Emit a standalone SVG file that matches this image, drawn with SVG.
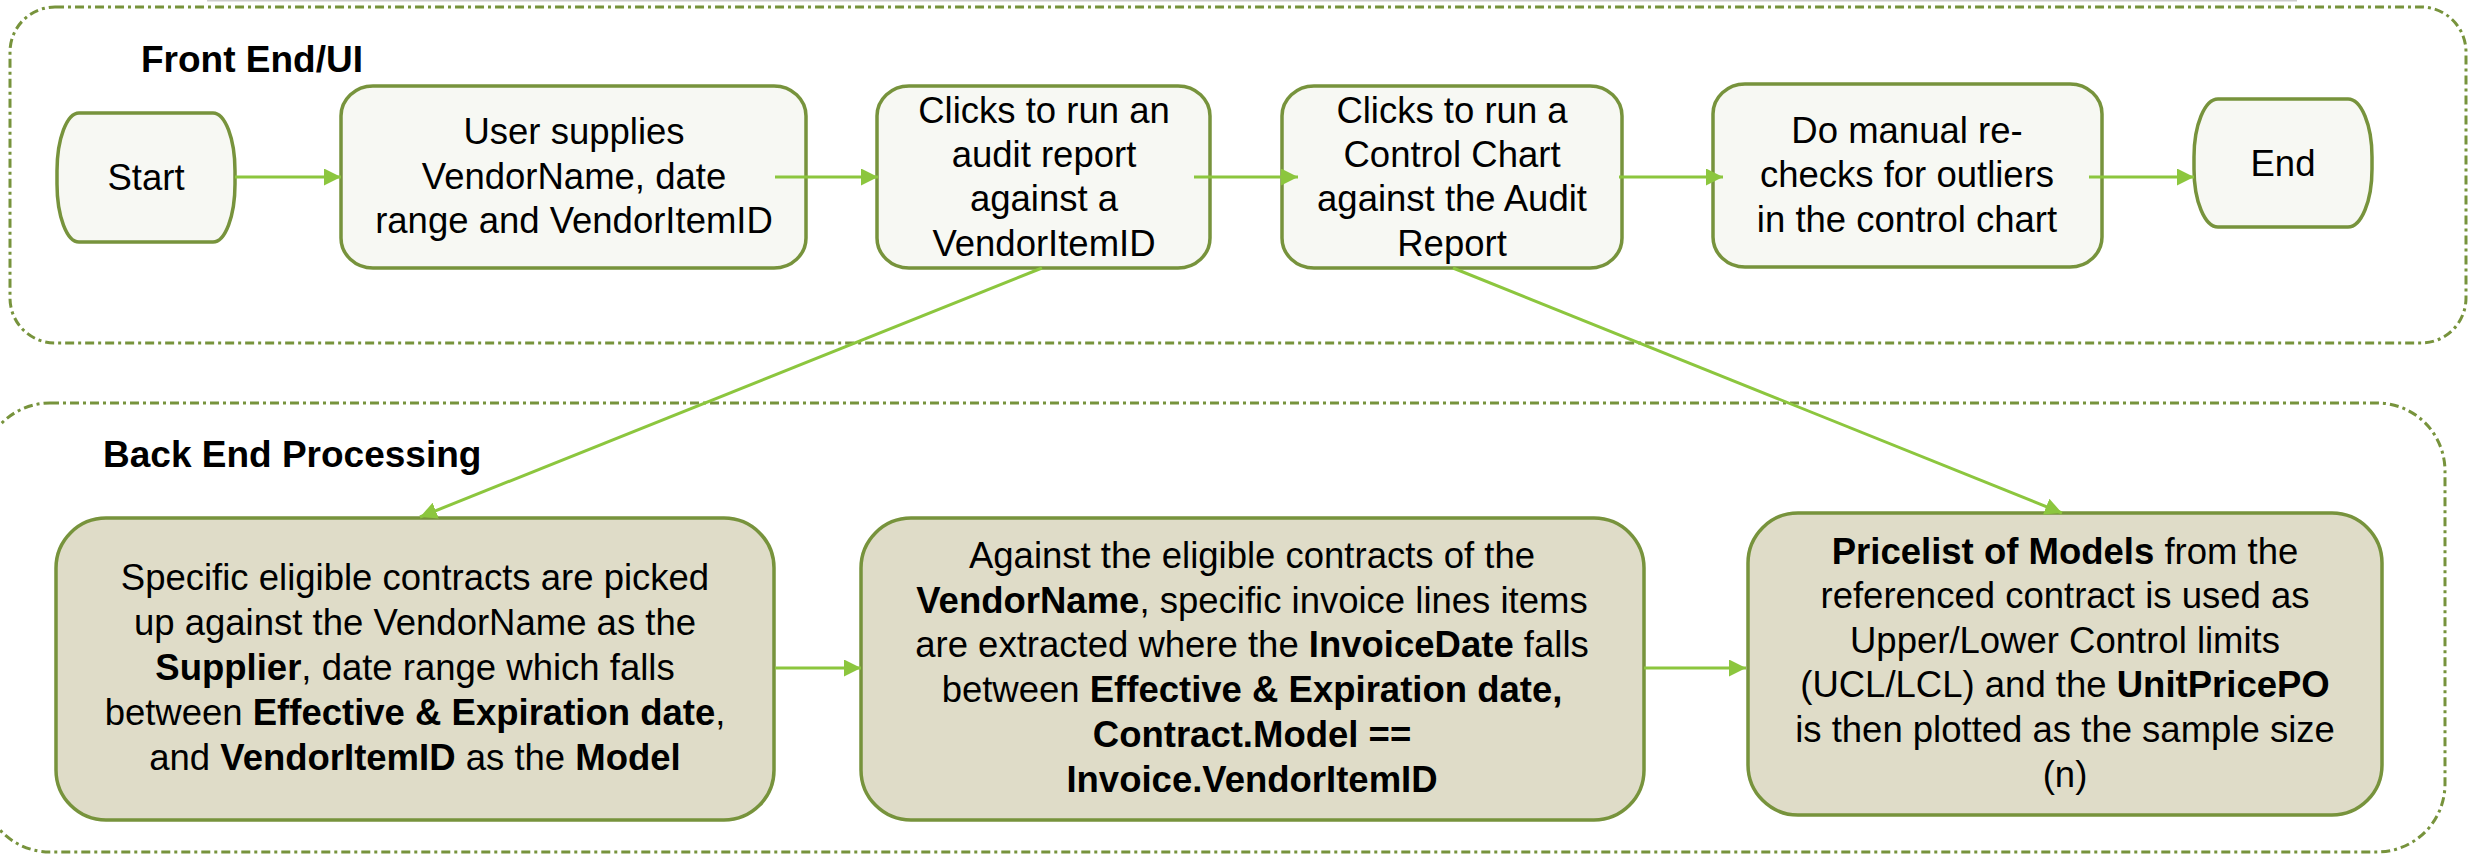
<svg xmlns="http://www.w3.org/2000/svg" width="2469" height="855" viewBox="0 0 2469 855">
<defs>
<style>
.frame{fill:none;stroke:#77933C;stroke-width:3;stroke-dasharray:9 4 3 4}
.top{fill:#F7F8F3;stroke:#77933C;stroke-width:3.5}
.bot{fill:#DFDCC8;stroke:#77933C;stroke-width:3.5}
.conn{fill:none;stroke:#8CC63E;stroke-width:3}
text{font-family:"Liberation Sans",Arial,sans-serif;fill:#000}
.t{font-size:36.5px;text-anchor:middle}
.h{font-size:37px;font-weight:bold}
.b{font-weight:bold}
</style>
<marker id="arr" markerUnits="userSpaceOnUse" markerWidth="20" markerHeight="20" refX="17" refY="8.5" orient="auto">
<path d="M0,0 L17,8.5 L0,17 z" fill="#8CC63E"/>
</marker>
</defs>
<rect width="2469" height="855" fill="#FFFFFF"/>
<rect x="207" y="0" width="2090" height="1.5" fill="#CCCCCC"/>

<g id="frame-front">
<rect class="frame" x="10" y="7" width="2456" height="336" rx="45" ry="45"/>
<text class="h" x="141" y="72">Front End/UI</text>
</g>
<g id="frame-back">
<rect class="frame" x="-18" y="403" width="2463" height="449" rx="68" ry="68"/>
<text class="h" x="103" y="467">Back End Processing</text>
</g>

<g id="start">
<rect class="top" x="57" y="113" width="178" height="129" rx="22" ry="58"/>
<text class="t" x="146" y="190">Start</text>
</g>
<g id="user-supplies">
<rect class="top" x="341" y="86" width="465" height="182" rx="32" ry="30"/>
<text class="t" x="574" y="144">User supplies</text>
<text class="t" x="574" y="189">VendorName, date</text>
<text class="t" x="574" y="233">range and VendorItemID</text>
</g>
<g id="audit-report">
<rect class="top" x="877" y="86" width="333" height="182" rx="32" ry="30"/>
<text class="t" x="1044" y="123">Clicks to run an</text>
<text class="t" x="1044" y="167">audit report</text>
<text class="t" x="1044" y="211">against a</text>
<text class="t" x="1044" y="256">VendorItemID</text>
</g>
<g id="control-chart">
<rect class="top" x="1282" y="86" width="340" height="182" rx="32" ry="30"/>
<text class="t" x="1452" y="123">Clicks to run a</text>
<text class="t" x="1452" y="167">Control Chart</text>
<text class="t" x="1452" y="211">against the Audit</text>
<text class="t" x="1452" y="256">Report</text>
</g>
<g id="manual-recheck">
<rect class="top" x="1713" y="84" width="389" height="183" rx="32" ry="30"/>
<text class="t" x="1907" y="143">Do manual re-</text>
<text class="t" x="1907" y="187">checks for outliers</text>
<text class="t" x="1907" y="232">in the control chart</text>
</g>
<g id="end">
<rect class="top" x="2194" y="99" width="178" height="128" rx="24" ry="58"/>
<text class="t" x="2283" y="176">End</text>
</g>

<g id="eligible-contracts">
<rect class="bot" x="56" y="518" width="718" height="302" rx="50" ry="50"/>
<text class="t" x="415" y="590">Specific eligible contracts are picked</text>
<text class="t" x="415" y="635">up against the VendorName as the</text>
<text class="t" x="415" y="680"><tspan class="b">Supplier</tspan>, date range which falls</text>
<text class="t" x="415" y="725">between <tspan class="b">Effective &amp; Expiration date</tspan>,</text>
<text class="t" x="415" y="770">and <tspan class="b">VendorItemID</tspan> as the <tspan class="b">Model</tspan></text>
</g>
<g id="invoice-lines">
<rect class="bot" x="861" y="518" width="783" height="302" rx="50" ry="50"/>
<text class="t" x="1252" y="568">Against the eligible contracts of the</text>
<text class="t" x="1252" y="613"><tspan class="b">VendorName</tspan>, specific invoice lines items</text>
<text class="t" x="1252" y="657">are extracted where the <tspan class="b">InvoiceDate</tspan> falls</text>
<text class="t" x="1252" y="702">between <tspan class="b">Effective &amp; Expiration date,</tspan></text>
<text class="t b" x="1252" y="747">Contract.Model ==</text>
<text class="t b" x="1252" y="792">Invoice.VendorItemID</text>
</g>
<g id="pricelist">
<rect class="bot" x="1748" y="513" width="634" height="302" rx="50" ry="50"/>
<text class="t" x="2065" y="564"><tspan class="b">Pricelist of Models</tspan> from the</text>
<text class="t" x="2065" y="608">referenced contract is used as</text>
<text class="t" x="2065" y="653">Upper/Lower Control limits</text>
<text class="t" x="2065" y="697">(UCL/LCL) and the <tspan class="b">UnitPricePO</tspan></text>
<text class="t" x="2065" y="742">is then plotted as the sample size</text>
<text class="t" x="2065" y="787">(n)</text>
</g>

<g id="connectors">
<line class="conn" x1="235" y1="177" x2="341" y2="177" marker-end="url(#arr)"/>
<line class="conn" x1="775" y1="177" x2="878" y2="177" marker-end="url(#arr)"/>
<line class="conn" x1="1194" y1="177" x2="1298" y2="177" marker-end="url(#arr)"/>
<line class="conn" x1="1619" y1="177" x2="1723" y2="177" marker-end="url(#arr)"/>
<line class="conn" x1="2089" y1="177" x2="2194" y2="177" marker-end="url(#arr)"/>
<line class="conn" x1="1042" y1="268" x2="420" y2="517" marker-end="url(#arr)"/>
<line class="conn" x1="1453" y1="268" x2="2062" y2="513" marker-end="url(#arr)"/>
<line class="conn" x1="775" y1="668" x2="861" y2="668" marker-end="url(#arr)"/>
<line class="conn" x1="1644" y1="668" x2="1746" y2="668" marker-end="url(#arr)"/>
</g>
</svg>
